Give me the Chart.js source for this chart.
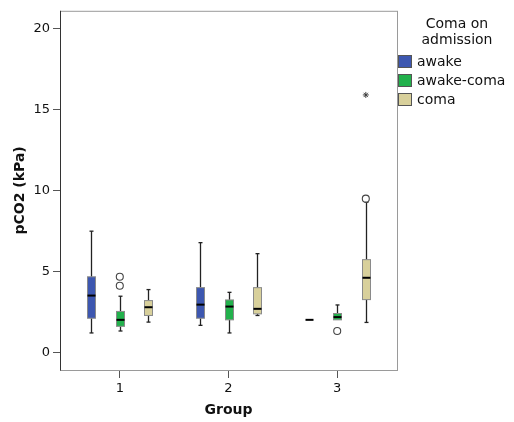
<!DOCTYPE html>
<html>
<head>
<meta charset="utf-8">
<script src="https://cdn.jsdelivr.net/npm/chart.js@4.4.1/dist/chart.umd.min.js"></script>
<style>
  html, body { margin: 0; padding: 0; background: #fff; }
  #wrap { width: 514px; height: 422px; }
</style>
</head>
<body>
<div id="wrap"><canvas id="boxChart" width="514" height="422"></canvas></div>
<script>
/* ===============================
   DATA
================================ */
const groups = [1, 2, 3];
const seriesNames = ["awake", "awake-coma", "coma"];
const yTicks = [0, 5, 10, 15, 20];

// per group: [min, q1, median, q3, max]
const awakeStats = [
    [1.19, 2.10, 3.50, 4.66, 7.48],
    [1.66, 2.10, 2.94, 3.99, 6.77],
    [2.00, 2.00, 2.00, 2.00, 2.00]
];
const awakeComaStats = [
    [1.31, 1.60, 2.00, 2.52, 3.46],
    [1.19, 2.00, 2.82, 3.23, 3.70],
    [2.00, 2.00, 2.17, 2.39, 2.92]
];
const comaStats = [
    [1.86, 2.27, 2.78, 3.19, 3.87],
    [2.27, 2.37, 2.68, 3.99, 6.09],
    [1.84, 3.25, 4.60, 5.72, 9.27]
];

// outliers (circle) and extremes (star)
const awakeComaOutGroup = [1, 1, 3];
const awakeComaOutValue = [4.66, 4.11, 1.31];
const comaOutGroup = [3];
const comaOutValue = [9.49];
const comaExtremeGroup = [3];
const comaExtremeValue = [15.9];

/* ===============================
   STYLE
================================ */
const FONT = "'DejaVu Sans', sans-serif";
const seriesColors = ["#3d57b0", "#22b14c", "#d8d09b"];
const seriesOffsets = [-0.263, 0, 0.263];
const BOX_HALF = 4;
const CAP_HALF = 2;

const allStats = [awakeStats, awakeComaStats, comaStats];

function pts(gs, vs, s) {
    return gs.map((g, i) => ({ x: g + seriesOffsets[s], y: vs[i] }));
}

function line(ctx, x1, y1, x2, y2) {
    ctx.beginPath();
    ctx.moveTo(x1, y1);
    ctx.lineTo(x2, y2);
    ctx.stroke();
}

/* ===============================
   BOX PLUGIN
================================ */
const boxPlugin = {
    id: "boxes",
    beforeDatasetsDraw(chart) {
        const { ctx, scales: { x, y } } = chart;
        ctx.save();
        allStats.forEach((stats, s) => {
            stats.forEach((st, i) => {
                const cx = Math.round(x.getPixelForValue(groups[i] + seriesOffsets[s])) + 0.5;
                const [lo, q1, med, q3, hi] = st.map(v => y.getPixelForValue(v));

                // whiskers
                ctx.strokeStyle = "#222";
                ctx.lineWidth = 1.3;
                if (hi < q3 - 0.5) {
                    line(ctx, cx, hi, cx, q3);
                    line(ctx, cx - CAP_HALF, hi, cx + CAP_HALF, hi);
                }
                if (lo > q1 + 0.5) {
                    line(ctx, cx, q1, cx, lo);
                    line(ctx, cx - CAP_HALF, lo, cx + CAP_HALF, lo);
                }

                // box
                if (q1 - q3 > 0.5) {
                    ctx.fillStyle = seriesColors[s];
                    ctx.fillRect(cx - BOX_HALF, q3, BOX_HALF * 2, q1 - q3);
                    ctx.strokeStyle = "#8a8a8a";
                    ctx.lineWidth = 1;
                    ctx.strokeRect(cx - BOX_HALF, q3, BOX_HALF * 2, q1 - q3);
                }

                // median
                ctx.strokeStyle = "#000";
                ctx.lineWidth = 2;
                line(ctx, cx - BOX_HALF, med, cx + BOX_HALF, med);
            });
        });
        ctx.restore();
    },
    afterDraw(chart) {
        const { ctx, chartArea: a } = chart;
        ctx.save();
        // frame
        ctx.strokeStyle = "#9a9a9a";
        ctx.lineWidth = 1;
        ctx.strokeRect(a.left + 0.5, a.top + 0.5, a.right - a.left, a.bottom - a.top);
        ctx.strokeStyle = "#333";
        line(ctx, a.left + 0.5, a.top, a.left + 0.5, a.bottom + 0.5);

        // legend
        const lx = a.right + 1;
        ctx.fillStyle = "#111";
        ctx.font = "14px " + FONT;
        ctx.textAlign = "center";
        ctx.textBaseline = "middle";
        ctx.fillText("Coma on", 457, 24);
        ctx.fillText("admission", 457, 40);
        ctx.textAlign = "left";
        seriesNames.forEach((name, i) => {
            const ty = 61.5 + i * 19;
            ctx.fillStyle = seriesColors[i];
            ctx.fillRect(lx, ty - 6.5, 14, 13);
            ctx.strokeStyle = "#555";
            ctx.strokeRect(lx + 0.5, ty - 6, 13, 12);
            ctx.fillStyle = "#111";
            ctx.fillText(name, lx + 19, ty + 1);
        });
        ctx.restore();
    }
};

/* ===============================
   CHART
================================ */
const ctx = document.getElementById("boxChart");

new Chart(ctx, {
    type: "scatter",
    data: {
        datasets: [
            {
                label: "awake-coma outliers",
                data: pts(awakeComaOutGroup, awakeComaOutValue, 1),
                pointStyle: "circle",
                pointRadius: 3.5,
                backgroundColor: "#fff",
                borderColor: "#444",
                borderWidth: 1.1
            },
            {
                label: "coma outliers",
                data: pts(comaOutGroup, comaOutValue, 2),
                pointStyle: "circle",
                pointRadius: 3.5,
                backgroundColor: "#fff",
                borderColor: "#444",
                borderWidth: 1.1
            },
            {
                label: "coma extremes",
                data: pts(comaExtremeGroup, comaExtremeValue, 2),
                pointStyle: "star",
                pointRadius: 3,
                backgroundColor: "#333",
                borderColor: "#333",
                borderWidth: 0.9
            }
        ]
    },
    options: {
        responsive: false,
        animation: false,
        events: [],
        layout: { padding: { top: 8, right: 117, bottom: 0, left: 0 } },
        plugins: {
            legend: { display: false },
            tooltip: { enabled: false }
        },
        scales: {
            x: {
                type: "linear",
                min: 0.45,
                max: 3.55,
                afterBuildTicks: s => { s.ticks = groups.map(v => ({ value: v })); },
                afterFit: s => { s.height = 52; },
                grid: { drawOnChartArea: false, drawTicks: true, tickLength: 8, color: "#555" },
                border: { display: false },
                ticks: {
                    color: "#111",
                    padding: 3,
                    font: { family: FONT, size: 13 }
                },
                title: {
                    display: true,
                    text: "Group",
                    color: "#111",
                    padding: { top: 0, bottom: 3 },
                    font: { family: FONT, size: 14, weight: "bold" }
                }
            },
            y: {
                min: -1.1,
                max: 21.1,
                afterBuildTicks: s => { s.ticks = yTicks.map(v => ({ value: v })); },
                afterFit: s => { s.width = 60; },
                grid: { drawOnChartArea: false, drawTicks: true, tickLength: 7, color: "#555" },
                border: { display: false },
                ticks: {
                    color: "#111",
                    padding: 3,
                    font: { family: FONT, size: 13 }
                },
                title: {
                    display: true,
                    text: "pCO2 (kPa)",
                    color: "#111",
                    padding: { top: 12, bottom: 0 },
                    font: { family: FONT, size: 14, weight: "bold" }
                }
            }
        }
    },
    plugins: [boxPlugin]
});
</script>
</body>
</html>
